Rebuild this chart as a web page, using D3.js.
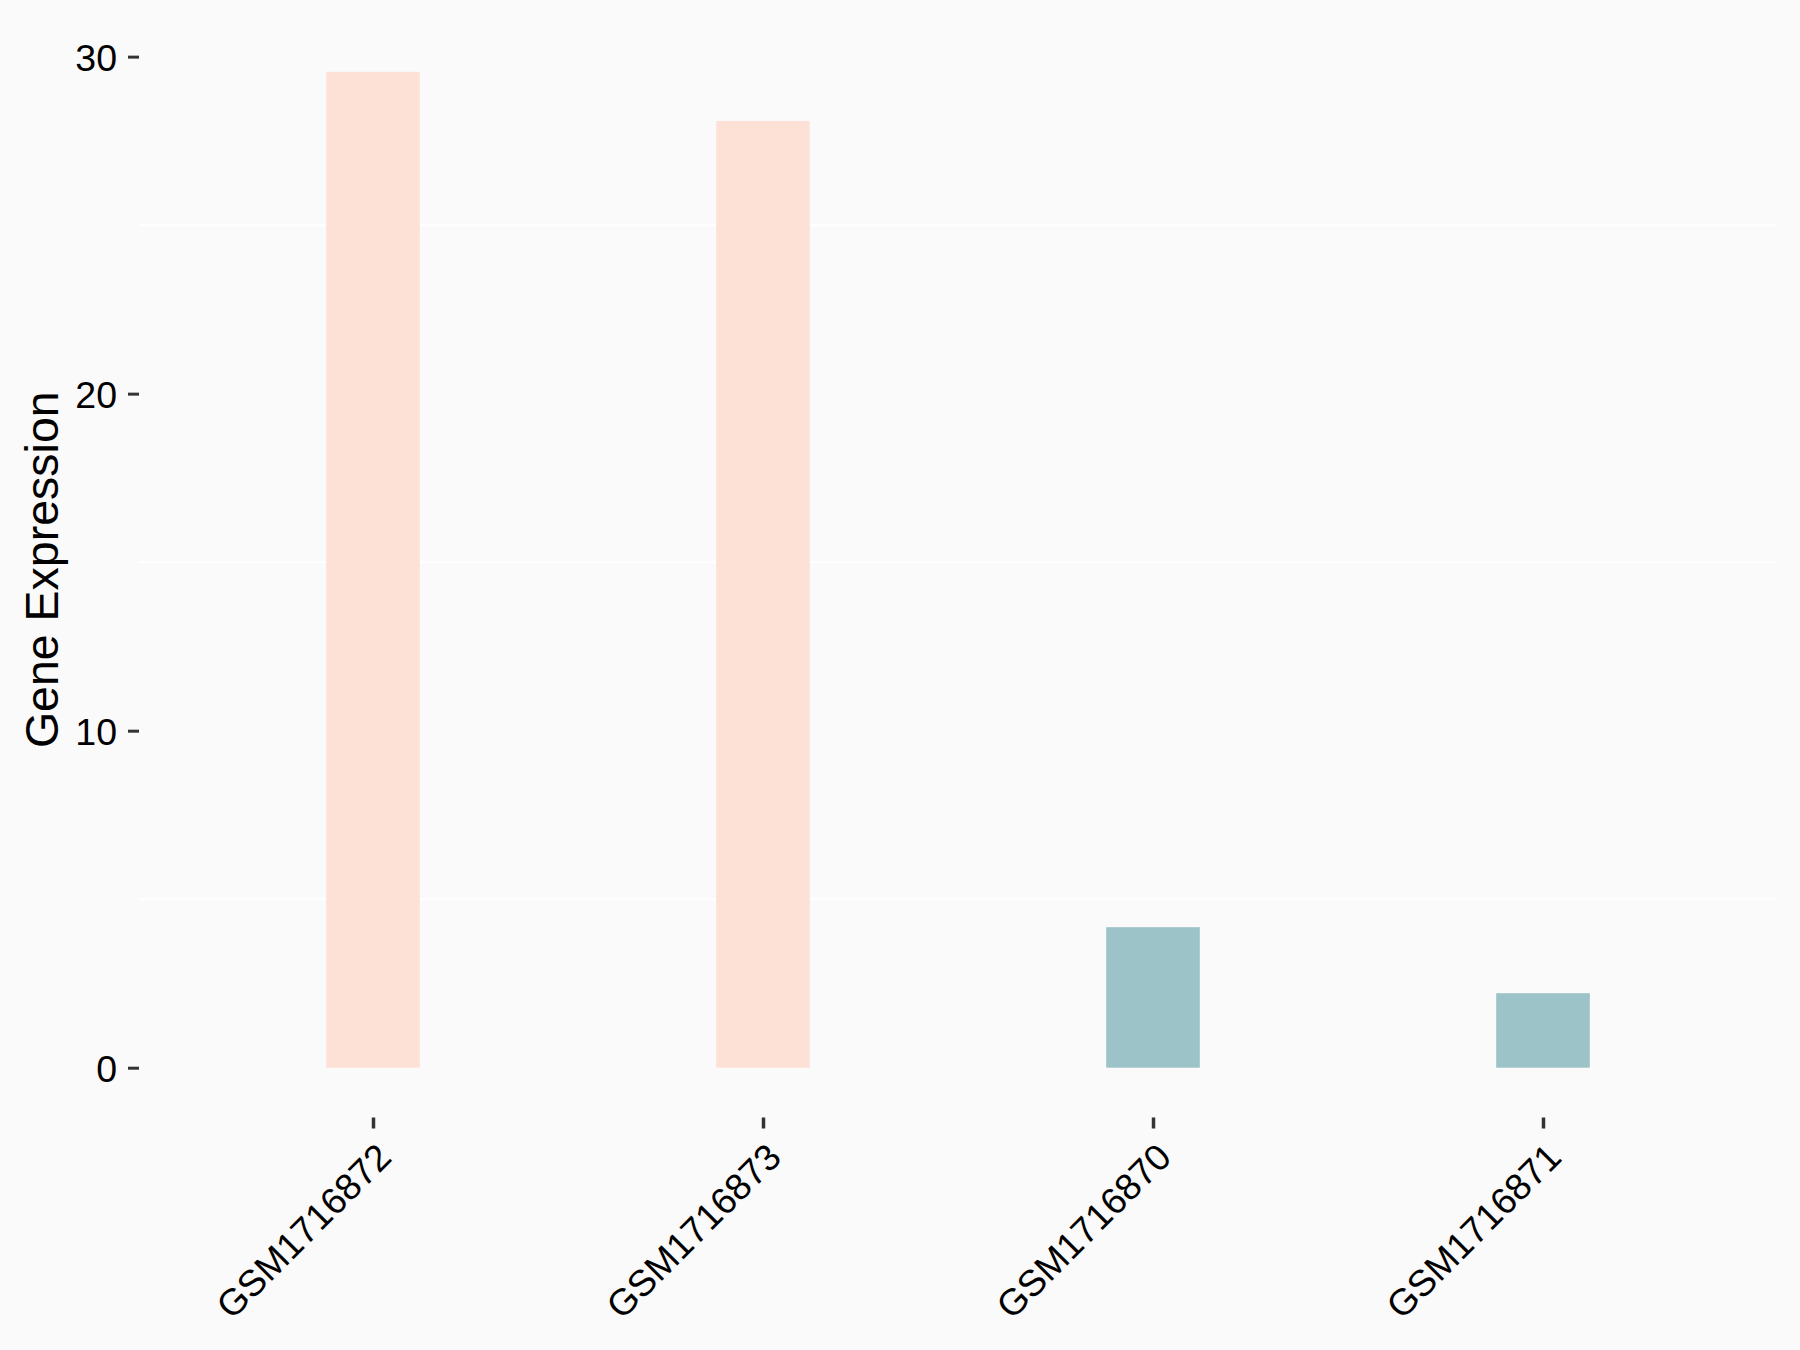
<!DOCTYPE html>
<html>
<head>
<meta charset="utf-8">
<script src="https://cdn.jsdelivr.net/npm/d3@7"></script>
<style>
  html, body { margin: 0; padding: 0; background: #FAFAFA; }
  svg { display: block; }
</style>
</head>
<body>
<svg id="chart" width="1800" height="1350"></svg>
<script>
// Data
const categories = ["GSM1716872", "GSM1716873", "GSM1716870", "GSM1716871"];
const values = [29.55, 28.09, 4.17, 2.21];
const groups = ["high", "high", "low", "low"];
const yTicks = [0, 10, 20, 30];
const yMinorTicks = [5, 15, 25];
const groupColors = { high: "#FEE1D6", low: "#9CC3C7" };

const W = 1800, H = 1350;
const panel = { left: 139, right: 1777, top: 22, bottom: 1117.5 };
const font = "'Liberation Sans', Arial, sans-serif";

const svg = d3.select("#chart");
svg.append("rect").attr("width", W).attr("height", H).attr("fill", "#FAFAFA");

const maxV = d3.max(values);
const pad = maxV * 0.05;
const y = d3.scaleLinear().domain([0 - pad, maxV + pad]).range([panel.bottom, panel.top]);
const x = d3.scalePoint().domain(categories).range([panel.left, panel.right]).padding(0.6);
const bw = x.step() * 0.24;

// minor gridlines (white)
svg.append("g").selectAll("line").data(yMinorTicks).join("line")
  .attr("x1", panel.left).attr("x2", panel.right)
  .attr("y1", d => y(d)).attr("y2", d => y(d))
  .attr("stroke", "#FFFFFF").attr("stroke-width", 2);

// bars
svg.append("g").selectAll("rect").data(categories).join("rect")
  .attr("x", (d) => x(d) - bw / 2)
  .attr("width", bw)
  .attr("y", (d, i) => y(values[i]))
  .attr("height", (d, i) => y(0) - y(values[i]))
  .attr("fill", (d, i) => groupColors[groups[i]]);

// y axis
const yAxis = d3.axisLeft(y).tickValues(yTicks).tickSize(11).tickPadding(11).tickFormat(d3.format("d"));
const gy = svg.append("g").attr("transform", `translate(${panel.left},0)`).call(yAxis);
gy.select(".domain").remove();
gy.selectAll(".tick line").attr("stroke", "#333333").attr("stroke-width", 3);
gy.selectAll(".tick text").attr("font-family", font).attr("font-size", 37.5).attr("fill", "#000")
  .attr("dy", "0.36em");

// x axis
const xAxis = d3.axisBottom(x).tickSize(11).tickPadding(0);
const gx = svg.append("g").attr("transform", `translate(0,${panel.bottom})`).call(xAxis);
gx.select(".domain").remove();
gx.selectAll(".tick line").attr("stroke", "#333333").attr("stroke-width", 3.5);
gx.selectAll(".tick text")
  .attr("font-family", font).attr("font-size", 37).attr("fill", "#000")
  .attr("text-anchor", "end")
  .attr("x", 0).attr("y", 0).attr("dy", "0.72em")
  .attr("transform", "translate(1,23) rotate(-45)");

// y title
svg.append("text")
  .attr("transform", `translate(58,${(panel.top + panel.bottom) / 2}) rotate(-90)`)
  .attr("text-anchor", "middle")
  .attr("font-family", font).attr("font-size", 46.5).attr("fill", "#000")
  .text("Gene Expression");
</script>
</body>
</html>
